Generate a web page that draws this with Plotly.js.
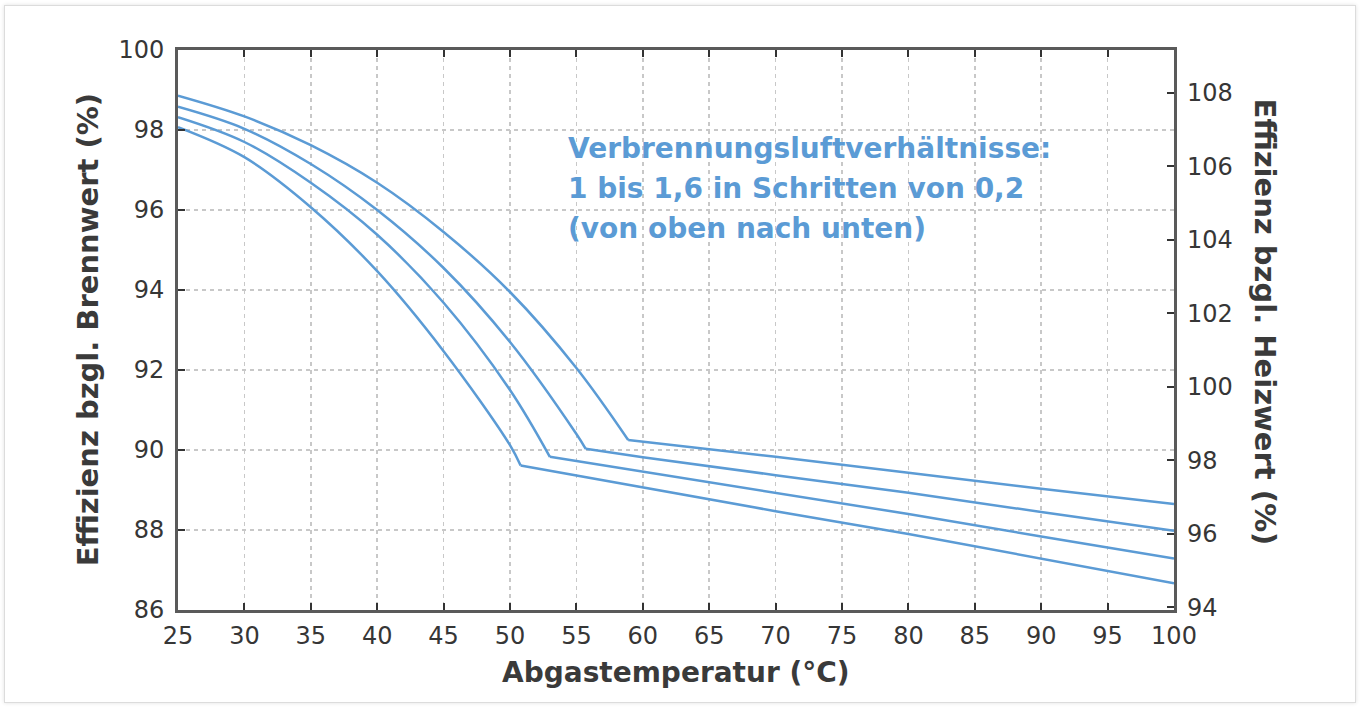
<!DOCTYPE html>
<html>
<head>
<meta charset="utf-8">
<script src="https://cdn.plot.ly/plotly-3.0.1.min.js"></script>
<style>
  html, body { margin: 0; padding: 0; background: #ffffff; }
  #frame { position: absolute; left: 4px; top: 5px; width: 1350px; height: 696px;
           border: 1px solid #dcdcdc; box-shadow: 0 0 4px rgba(0,0,0,0.12); }
  #chart { position: absolute; left: 0; top: 0; width: 1361px; height: 711px; }
</style>
</head>
<body>
<div id="frame"></div>
<div id="chart"></div>
<script>
// Abgastemperatur (°C) vs. Effizienz bzgl. Brennwert (%), lambda = 1.0 / 1.2 / 1.4 / 1.6
const temp1 = [25, 30, 35, 40, 45, 50, 55, 58.9, 70, 80, 90, 100];
const eff1  = [98.86, 98.34, 97.62, 96.68, 95.45, 93.95, 92.05, 90.25, 89.83, 89.43, 89.03, 88.65];
const break1 = 7;

const temp2 = [25, 30, 35, 40, 45, 50, 55, 55.7, 60, 70, 80, 90, 100];
const eff2  = [98.58, 98.03, 97.15, 96.0, 94.55, 92.7, 90.4, 90.03, 89.82, 89.37, 88.93, 88.45, 87.98];
const break2 = 7;

const temp3 = [25, 30, 35, 40, 45, 50, 53.0, 60, 70, 80, 90, 100];
const eff3  = [98.32, 97.70, 96.68, 95.38, 93.68, 91.5, 89.83, 89.46, 88.92, 88.4, 87.84, 87.29];
const break3 = 6;

const temp4 = [25, 30, 35, 40, 45, 50, 50.8, 60, 70, 80, 90, 100];
const eff4  = [98.07, 97.32, 96.07, 94.47, 92.47, 90.12, 89.61, 89.06, 88.47, 87.9, 87.28, 86.67];
const break4 = 6;

const xTicks = [25, 30, 35, 40, 45, 50, 55, 60, 65, 70, 75, 80, 85, 90, 95, 100];
const yTicks = [86, 88, 90, 92, 94, 96, 98, 100];
const y2Ticks = [94, 96, 98, 100, 102, 104, 106, 108];

const xTitle = 'Abgastemperatur (°C)';
const yTitle = 'Effizienz bzgl. Brennwert (%)';
const y2Title = 'Effizienz bzgl. Heizwert (%)';
const noteLines = ['Verbrennungsluftverhältnisse:', '1 bis 1,6 in Schritten von 0,2', '(von oben nach unten)'];

const lineColor = '#5b9bd5';
const series = [[temp1, eff1, break1], [temp2, eff2, break2], [temp3, eff3, break3], [temp4, eff4, break4]];
const traces = [];
series.forEach(([t, e, b]) => {
  traces.push({ x: t.slice(0, b + 1), y: e.slice(0, b + 1), mode: 'lines', type: 'scatter',
    line: { color: lineColor, width: 2.5, shape: 'spline', smoothing: 1.0 }, showlegend: false, hoverinfo: 'skip' });
  traces.push({ x: t.slice(b), y: e.slice(b), mode: 'lines', type: 'scatter',
    line: { color: lineColor, width: 2.5 }, showlegend: false, hoverinfo: 'skip' });
});
// empty trace so that the secondary (Heizwert) axis is drawn
traces.push({ x: [], y: [], yaxis: 'y2', type: 'scatter', mode: 'lines', showlegend: false, hoverinfo: 'skip' });

const fam = 'DejaVu Sans, Verdana, sans-serif';
const tickFont = { family: fam, size: 24, color: '#363636' };
const noteFont = { family: fam, size: 28, color: lineColor, weight: 'bold' };

const annotations = [
  { xref: 'paper', yref: 'paper', x: 0.5, y: -0.111, xanchor: 'center', yanchor: 'middle',
    text: xTitle, showarrow: false, font: { family: fam, size: 28, color: '#3a3a3a', weight: 'bold' } },
  { xref: 'paper', yref: 'paper', x: -0.09, y: 0.5, xanchor: 'center', yanchor: 'middle',
    text: yTitle, textangle: -90, showarrow: false, font: { family: fam, size: 29, color: '#3a3a3a', weight: 'bold' } },
  { xref: 'paper', yref: 'paper', x: 1.0914, y: 0.515, xanchor: 'center', yanchor: 'middle',
    text: y2Title, textangle: 90, showarrow: false, font: { family: fam, size: 29, color: '#3a3a3a', weight: 'bold' } }
];
const noteY = [97.55, 96.55, 95.55];
noteLines.forEach((txt, i) => {
  annotations.push({ xref: 'x', yref: 'y', x: 54.2, y: noteY[i], xanchor: 'left', yanchor: 'middle', align: 'left',
    text: txt, showarrow: false, font: noteFont });
});

const layout = {
  width: 1361, height: 711,
  margin: { l: 178, r: 187, t: 50, b: 101 },
  paper_bgcolor: 'rgba(0,0,0,0)', plot_bgcolor: '#ffffff',
  xaxis: {
    range: [25, 100], tickvals: xTicks, ticktext: xTicks.map(String),
    ticks: 'inside', ticklen: 7, tickwidth: 2, tickcolor: '#333',
    showline: true, linewidth: 3, linecolor: '#5a5a5a', mirror: 'ticks',
    showgrid: true, gridcolor: '#c8c8c8', gridwidth: 1.5, griddash: '4px,4px',
    zeroline: false, tickfont: tickFont, ticklabelstandoff: 2
  },
  yaxis: {
    range: [86, 100], tickvals: yTicks, ticktext: yTicks.map(String),
    ticks: 'inside', ticklen: 7, tickwidth: 2, tickcolor: '#333',
    showline: true, linewidth: 3, linecolor: '#5a5a5a', mirror: true,
    showgrid: true, gridcolor: '#c8c8c8', gridwidth: 1.5, griddash: '4px,4px',
    zeroline: false, tickfont: tickFont, ticklabelstandoff: 6
  },
  yaxis2: {
    overlaying: 'y', side: 'right', anchor: 'x', range: [93.93, 109.16],
    tickvals: y2Ticks, ticktext: y2Ticks.map(String),
    ticks: 'inside', ticklen: 7, tickwidth: 2, tickcolor: '#333',
    showline: false, showgrid: false, zeroline: false, tickfont: tickFont, ticklabelstandoff: 12
  },
  annotations: annotations
};

Plotly.newPlot('chart', traces, layout, { staticPlot: true, displayModeBar: false });
</script>
</body>
</html>
